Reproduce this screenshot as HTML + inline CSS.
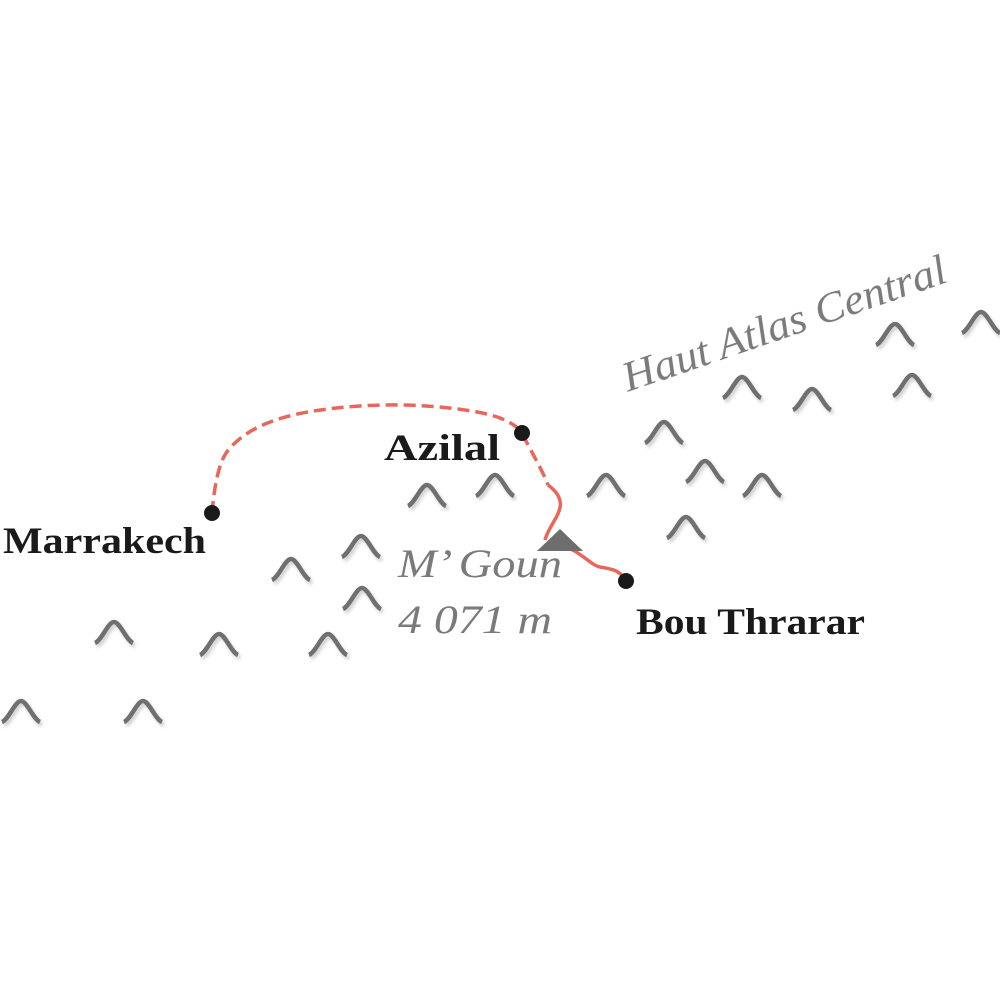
<!DOCTYPE html>
<html><head><meta charset="utf-8"><style>
html,body{margin:0;padding:0;background:#fff;}
svg{display:block}
</style></head><body>
<svg width="1000" height="1000" viewBox="0 0 1000 1000" xmlns="http://www.w3.org/2000/svg">
<defs>
<filter id="sh" x="-30%" y="-30%" width="160%" height="160%"><feDropShadow dx="2" dy="3" stdDeviation="1.5" flood-color="#000" flood-opacity="0.18"/></filter>
<path id="m" d="M-19,0 C-12,-3 -6,-21 0,-21 C6,-21 12,-3 19,0" fill="none" stroke="#707070" stroke-width="4.5" stroke-linecap="butt"/>
</defs>
<g filter="url(#sh)">
<use href="#m" x="895" y="345"/>
<use href="#m" x="981" y="333"/>
<use href="#m" x="742" y="398"/>
<use href="#m" x="812" y="410"/>
<use href="#m" x="912" y="396"/>
<use href="#m" x="664" y="443"/>
<use href="#m" x="705" y="482"/>
<use href="#m" x="762" y="496"/>
<use href="#m" x="606" y="496"/>
<use href="#m" x="495" y="496"/>
<use href="#m" x="427" y="506"/>
<use href="#m" x="686" y="538"/>
<use href="#m" x="361" y="557"/>
<use href="#m" x="291" y="580"/>
<use href="#m" x="362" y="609"/>
<use href="#m" x="114" y="643"/>
<use href="#m" x="219" y="655"/>
<use href="#m" x="328" y="655"/>
<use href="#m" x="21" y="722"/>
<use href="#m" x="143" y="722"/>
</g>
<path d="M212,513 C214,490 218,460 230,448 C255,420 300,410 360,406 C420,402 480,410 500,418 C510,422 518,427 522,433 C530,450 540,465 548,485" fill="none" stroke="#e8665a" stroke-width="3.5" stroke-dasharray="12,6"/>
<path d="M548,485 C575,505 550,520 545,540 M560,545 C580,550 590,565 600,567 C612,569 620,570 626,581" fill="none" stroke="#e8665a" stroke-width="3.5"/>
<polygon points="560,529 583,551 537,551" fill="#6e6e6e"/>
<circle cx="212" cy="513" r="8" fill="#1a1a1a"/>
<circle cx="522" cy="433" r="8" fill="#1a1a1a"/>
<circle cx="626" cy="581" r="8" fill="#1a1a1a"/>
<g font-family="Liberation Serif, serif" font-weight="bold" font-size="37" fill="#1a1a1a">
<text x="3" y="553" textLength="203" lengthAdjust="spacingAndGlyphs">Marrakech</text>
<text x="384" y="460" textLength="116" lengthAdjust="spacingAndGlyphs">Azilal</text>
<text x="636" y="634" textLength="229" lengthAdjust="spacingAndGlyphs">Bou Thrarar</text>
</g>
<g font-family="Liberation Serif, serif" font-style="italic" font-size="40" fill="#7a7a7a">
<text x="398" y="577" textLength="164" lengthAdjust="spacingAndGlyphs">M’ Goun</text>
<text x="398" y="633" textLength="154" lengthAdjust="spacingAndGlyphs">4 071 m</text>
<text x="628" y="392" transform="rotate(-19 628 392)" font-size="42" textLength="340" lengthAdjust="spacingAndGlyphs">Haut Atlas Central</text>
</g>
</svg>
</body></html>
